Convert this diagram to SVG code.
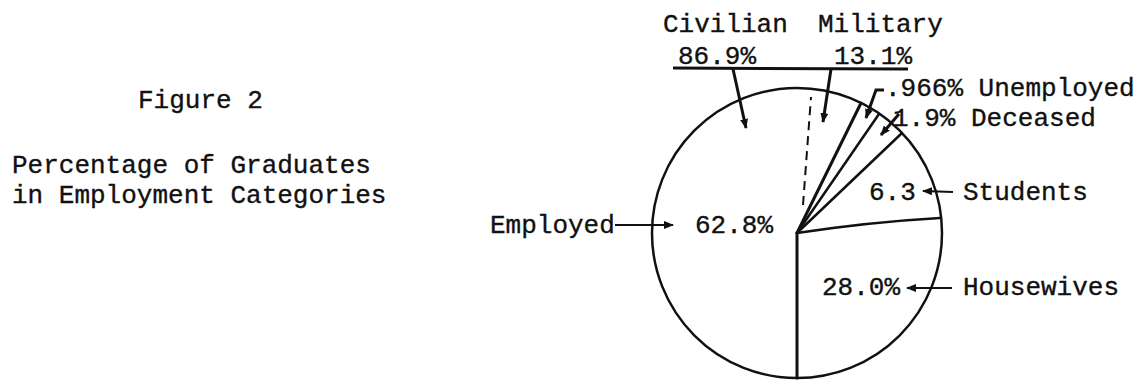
<svg xmlns="http://www.w3.org/2000/svg" width="1137" height="380" viewBox="0 0 1137 380">
  <style>
    text { font-family: "Liberation Mono", "Courier New", monospace; font-size: 26px; fill: #111; stroke: #111; stroke-width: 0.35; }
    .pie { fill: none; stroke: #111; stroke-width: 2.5; }
    .rad { stroke: #111; stroke-width: 3; stroke-linecap: round; fill: none; }
    .conn { stroke: #111; stroke-width: 2.2; fill: none; }
    .thick { stroke-width: 3; }
    .dash { stroke: #111; stroke-width: 2; stroke-dasharray: 9 6; fill: none; }
  </style>
  <defs>
    <marker id="ah" viewBox="0 0 10 8" refX="9" refY="4" markerWidth="10" markerHeight="8" markerUnits="userSpaceOnUse" orient="auto">
      <path d="M0,0 L10,4 L0,8 z" fill="#111"/>
    </marker>
  </defs>
  <rect width="1137" height="380" fill="#fff"/>

  <g id="title">
    <text x="138" y="108">Figure 2</text>
    <text x="12" y="173">Percentage of Graduates</text>
    <text x="12" y="203">in Employment Categories</text>
  </g>

  <g id="pie">
    <circle class="pie" cx="797" cy="233" r="145"/>
    <line class="rad" x1="797" y1="233" x2="797" y2="378"/>
    <path class="rad" d="M797,233 Q870,222 940,218" style="stroke-width:2.5"/>
    <line class="rad" x1="797" y1="233" x2="861" y2="103"/>
    <line class="rad" x1="797" y1="233" x2="879" y2="114" style="stroke-width:2.5"/>
    <line class="rad" x1="797" y1="233" x2="902" y2="133" style="stroke-width:2.5"/>
    <line class="dash" x1="803" y1="205" x2="811" y2="97"/>
  </g>

  <g id="civilian">
    <text x="663" y="32">Civilian</text>
    <text x="678" y="64">86.9%</text>
  </g>
  <g id="military">
    <text x="818" y="32">Military</text>
    <text x="834" y="64">13.1%</text>
  </g>
  <g id="unemployed">
    <text x="885" y="96">.966% Unemployed</text>
  </g>
  <g id="deceased">
    <text x="893" y="126">1.9% Deceased</text>
  </g>
  <g id="students">
    <text x="869" y="200">6.3</text>
    <text x="963" y="200">Students</text>
  </g>
  <g id="housewives">
    <text x="822" y="295">28.0%</text>
    <text x="963" y="295">Housewives</text>
  </g>
  <g id="employed">
    <text x="490" y="233">Employed</text>
    <text x="695" y="233">62.8%</text>
  </g>

  <g id="connectors">
    <line class="conn thick" x1="673" y1="68" x2="908" y2="69"/>
    <line class="conn thick" x1="733" y1="69" x2="746" y2="128" marker-end="url(#ah)"/>
    <line class="conn thick" x1="831" y1="69" x2="823" y2="122" marker-end="url(#ah)"/>
    <path class="conn thick" d="M884,90 L876,90 L866,118" marker-end="url(#ah)"/>
    <line class="conn thick" x1="899" y1="114" x2="881" y2="135" marker-end="url(#ah)"/>
    <line class="conn" x1="953" y1="192" x2="923" y2="191" marker-end="url(#ah)"/>
    <line class="conn" x1="952" y1="288" x2="907" y2="288" marker-end="url(#ah)"/>
    <line class="conn" x1="615" y1="225" x2="673" y2="225" marker-end="url(#ah)"/>
  </g>
</svg>
